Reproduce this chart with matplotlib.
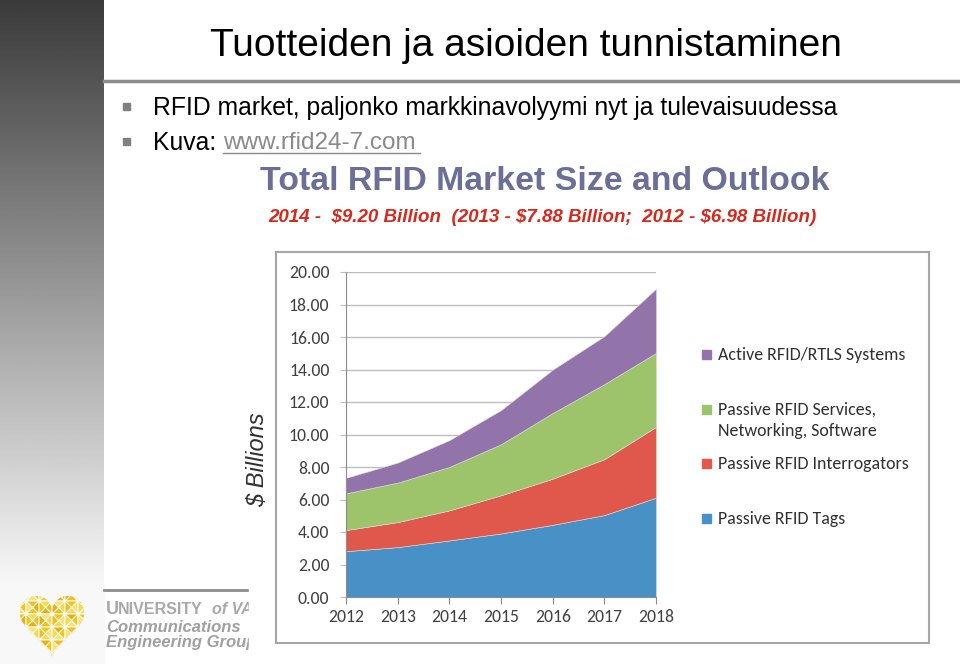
import numpy as np
import matplotlib.pyplot as plt
from matplotlib.patches import Rectangle, Polygon

# data (stack segments, $ billions)
years = [2012, 2013, 2014, 2015, 2016, 2017, 2018]
tags = [2.82, 3.07, 3.48, 3.91, 4.44, 5.04, 6.11]
interrogators = [1.30, 1.54, 1.85, 2.35, 2.84, 3.44, 4.36]
services = [2.26, 2.43, 2.67, 3.14, 4.04, 4.62, 4.55]
active = [0.95, 1.23, 1.65, 2.10, 2.67, 2.95, 3.95]
series_names = ['Passive RFID Tags', 'Passive RFID Interrogators',
                'Passive RFID Services,\nNetworking, Software',
                'Active RFID/RTLS Systems']
series_colors = ['#4891c6', '#e0584b', '#9dc46a', '#9274ab']
yticks = [0, 2, 4, 6, 8, 10, 12, 14, 16, 18, 20]

slide_title = 'Tuotteiden ja asioiden tunnistaminen'
bullets = ['RFID market, paljonko markkinavolyymi nyt ja tulevaisuudessa', 'Kuva: ']
chart_title = 'Total RFID Market Size and Outlook'
chart_sub = '2014 -  $9.20 Billion  (2013 - $7.88 Billion;  2012 - $6.98 Billion)'

W, H = 960, 664
fig = plt.figure(figsize=(9.6, 6.64), dpi=100)
bg = fig.add_axes([0, 0, 1, 1])
bg.axis('off')

# left grey strip
grad = np.linspace(0.23, 0.97, 256).reshape(-1, 1)
bg.imshow(grad, cmap='gray', vmin=0, vmax=1, extent=[0, 104, 585, 0], aspect='auto', zorder=0)
bg.add_patch(Rectangle((0, 585), 104, 79, color='#f8f8f8', zorder=0))
bg.set_xlim(0, W)
bg.set_ylim(H, 0)

sans = ['Liberation Sans', 'DejaVu Sans']
cal = ['Carlito', 'Lato', 'DejaVu Sans']

bg.text(526, 46, slide_title, fontsize=28, family=sans, ha='center', va='center')
bg.plot([104, 960], [81, 81], color='#8c8c8c', lw=2.5)

for i, b in enumerate(bullets):
    y = 108 + i * 35
    bg.add_patch(Rectangle((123, y - 5), 7, 7, color='#808080'))
    bg.text(153, y, b, fontsize=17.8, family=sans, va='center')
bg.text(223, 143, 'www.rfid24-7.com', fontsize=17.5, family=sans, va='center', color='#8a8a8a')
bg.plot([223, 420], [153, 153], color='#8a8a8a', lw=1)

# footer
bg.plot([104, 250], [590, 590], color='#8c8c8c', lw=2)
bg.plot([938, 960], [591, 591], color='#8c8c8c', lw=2)
bg.text(106, 614, 'U', fontsize=13, family=sans, weight='bold', color='#a8a8a8', va='baseline')
bg.text(118, 614, 'NIVERSITY', fontsize=11.5, family=sans, weight='bold', color='#a8a8a8', va='baseline')
bg.text(212, 614, 'of VAASA', fontsize=11.5, family=sans, weight='bold', style='italic', color='#a8a8a8', va='baseline')
bg.text(106, 628, 'Communications', fontsize=12, family=sans, weight='bold', style='italic', color='#a0a0a0', va='center')
bg.text(106, 643, 'Engineering Group', fontsize=12, family=sans, weight='bold', style='italic', color='#a0a0a0', va='center')

# heart logo: triangle facets clipped to a heart outline
t = np.linspace(0, 2 * np.pi, 200)
hx = 52 + 2.0 * 16 * np.sin(t) ** 3
hy = 621 - 2.1 * (13 * np.cos(t) - 5 * np.cos(2 * t) - 2 * np.cos(3 * t) - np.cos(4 * t))
heart = Polygon(np.column_stack([hx, hy]), closed=True, fc='#f3c614', ec='none', zorder=2)
bg.add_patch(heart)
gold = ['#f3c614', '#f8d84c', '#e8af12', '#fbe17a', '#f0be20']
s = 13
k = 0
for gx in np.arange(13, 95, s):
    for gy in np.arange(588, 664, s):
        c = (gx + s / 2, gy + s / 2)
        for tri in ([(gx, gy), (gx + s, gy), c], [(gx + s, gy), (gx + s, gy + s), c],
                    [(gx + s, gy + s), (gx, gy + s), c], [(gx, gy + s), (gx, gy), c]):
            p = Polygon(tri, closed=True, fc=gold[k % 5], ec='white', lw=0.7, zorder=3)
            bg.add_patch(p)
            p.set_clip_path(heart)
            k += 3

# embedded chart picture
bg.add_patch(Rectangle((249, 160), 711, 504, color='white', zorder=4))
bg.add_patch(Rectangle((276, 252), 653, 391, fc='white', ec='#a6a6a6', lw=1.5, zorder=4))
bg.text(545, 182, chart_title, fontsize=24.4, family=sans, weight='bold', color='#6b6f98',
        ha='center', va='center', zorder=5)
bg.text(542, 218, chart_sub, fontsize=13.5, family=sans, weight='bold', style='italic',
        color='#d8281c', ha='center', va='center', zorder=5)
bg.text(258, 460, '$ Billions', fontsize=17, family=sans, style='italic', color='#303030',
        rotation=90, ha='center', va='center', zorder=5)

# legend
leg_y = [519, 464, 410, 355]
for name, c, y in zip(series_names, series_colors, leg_y):
    bg.add_patch(Rectangle((702, y - 5), 9, 9, color=c, zorder=5))
    for j, line in enumerate(name.split('\n')):
        bg.text(718, y + j * 21, line, fontsize=12.9, family=cal, color='#303030',
                va='center', zorder=5)

ax = fig.add_axes([346 / W, (H - 597) / H, 310 / W, 325 / H], zorder=6)
ax.patch.set_alpha(0)
ax.stackplot(years, tags, interrogators, services, active, colors=series_colors,
             edgecolor='#dddddd', linewidth=0.4)
ax.set_xlim(years[0], years[-1])
ax.set_ylim(0, 20)
ax.set_yticks(yticks)
ax.set_yticklabels(['%.2f' % v for v in yticks])
ax.set_xticks(years)
ax.grid(axis='y', color='#bdbdbd', lw=1)
ax.set_axisbelow(True)
for sp in ['top', 'right']:
    ax.spines[sp].set_visible(False)
ax.spines['left'].set_color('#8c8c8c')
ax.spines['bottom'].set_color('#8c8c8c')
ax.tick_params(axis='y', length=4, color='#bdbdbd', labelsize=12.7, labelcolor='#404040', pad=8)
ax.tick_params(axis='x', length=5, color='#8c8c8c', labelsize=12.7, labelcolor='#404040', pad=4)
for lab in ax.get_xticklabels() + ax.get_yticklabels():
    lab.set_family(cal)

fig.savefig('out.png', dpi=100)
